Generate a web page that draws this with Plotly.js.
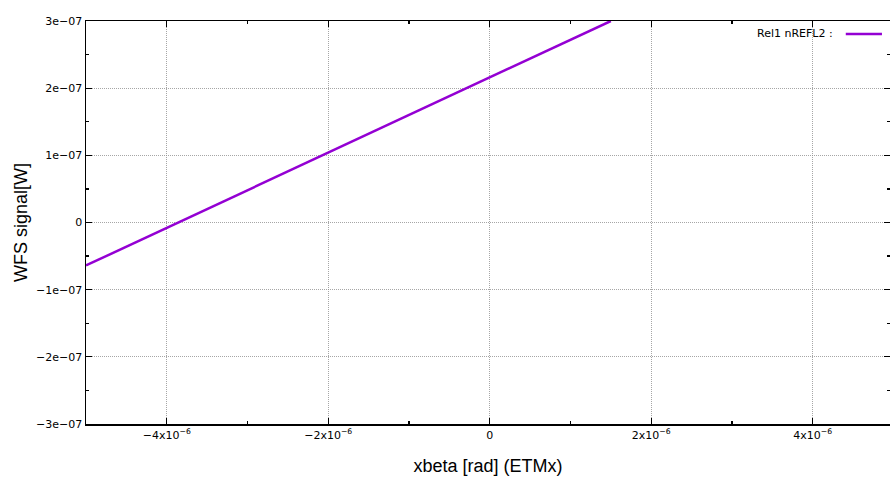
<!DOCTYPE html>
<html><head><meta charset="utf-8">
<script src="https://cdn.plot.ly/plotly-3.0.1.min.js"></script>
<style>body{margin:0;padding:0;background:#fff}</style>
</head><body>
<div id="chart" style="width:890px;height:478px"></div>
<script>
const xbeta = [-5e-6, 1.5e-6];
const wfs = [-0.64e-7, 3.0e-7];
const seriesName = 'Rel1 nREFL2 :';
const xTickVals = [-4e-6, -2e-6, 0, 2e-6, 4e-6];
const xTickText = ['\u22124x10<sup>\u22126</sup>', '\u22122x10<sup>\u22126</sup>', '0', '2x10<sup>\u22126</sup>', '4x10<sup>\u22126</sup>'];
const yTickVals = [-3e-7, -2e-7, -1e-7, 0, 1e-7, 2e-7, 3e-7];
const yTickText = ['\u22123e\u221207', '\u22122e\u221207', '\u22121e\u221207', '0', '1e\u221207', '2e\u221207', '3e\u221207'];

const color = '#9400d3';
const tickFont = {family: 'DejaVu Sans', size: 11, color: '#000'};
const data = [{
  x: xbeta, y: wfs, type: 'scatter', mode: 'lines', name: seriesName,
  line: {color: color, width: 2.5}, showlegend: false, cliponaxis: true
}];
const axisCommon = {
  showline: true, linecolor: '#000', linewidth: 1.5, mirror: 'ticks',
  ticks: 'inside', ticklen: 6, tickwidth: 1.2, tickcolor: '#000',
  showgrid: true, gridcolor: '#909090', griddash: '1px,1px', gridwidth: 0.8,
  zeroline: false, tickfont: tickFont, tickmode: 'array'
};
const layout = {
  width: 890, height: 478,
  margin: {l: 86, r: 0, t: 21, b: 54, pad: 0},
  paper_bgcolor: '#fff', plot_bgcolor: '#fff',
  showlegend: false,
  xaxis: Object.assign({}, axisCommon, {
    range: [-5e-6, 4.957e-6], tickvals: xTickVals, ticktext: xTickText,
    minor: {tickvals: [-5e-6, -3e-6, -1e-6, 1e-6, 3e-6], ticks: 'inside', ticklen: 3, tickcolor: '#000', showgrid: false},
    title: {text: 'xbeta [rad] (ETMx)', font: {family: 'Liberation Sans, Arial', size: 18, color: '#000'}, standoff: 18}
  }),
  yaxis: Object.assign({}, axisCommon, {
    range: [-3e-7, 3e-7], tickvals: yTickVals, ticktext: yTickText,
    minor: {tickvals: [-2.5e-7, -1.5e-7, -0.5e-7, 0.5e-7, 1.5e-7, 2.5e-7], ticks: 'inside', ticklen: 3, tickcolor: '#000', showgrid: false},
    title: {text: 'WFS signal[W]', font: {family: 'Liberation Sans, Arial', size: 18, color: '#000'}, standoff: 4}
  }),
  annotations: [{
    xref: 'paper', yref: 'paper', x: 0.932, y: 0.968, xanchor: 'right', yanchor: 'middle',
    text: seriesName, showarrow: false, font: {family: 'DejaVu Sans', size: 11, color: '#000'}
  }],
  shapes: [{
    type: 'line', xref: 'paper', yref: 'paper', x0: 0.945, x1: 0.990, y0: 0.968, y1: 0.968,
    line: {color: color, width: 2.5}
  }]
};
Plotly.newPlot('chart', data, layout, {displayModeBar: false, staticPlot: true});
</script>
</body></html>
